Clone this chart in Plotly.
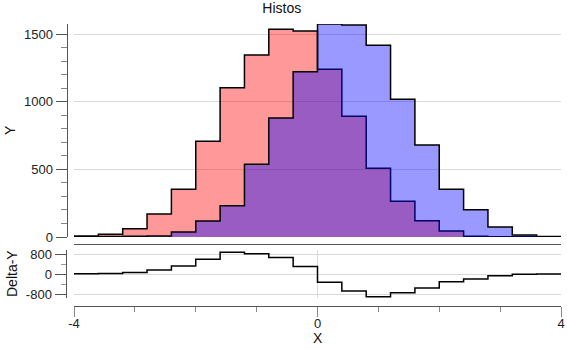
import plotly.graph_objects as go

# ---- data ----
bin_edges = [-4.0, -3.6, -3.2, -2.8, -2.4, -2.0, -1.6, -1.2, -0.8, -0.4, 0.0,
             0.4, 0.8, 1.2, 1.6, 2.0, 2.4, 2.8, 3.2, 3.6, 4.0]
red_counts = [8, 20, 61, 170, 352, 707, 1103, 1345, 1535, 1522,
              1240, 892, 508, 264, 120, 44, 5, 2, 1, 0]
blue_counts = [1, 3, 5, 8, 37, 118, 231, 537, 880, 1222,
               1574, 1567, 1417, 1018, 680, 352, 202, 74, 15, 3]
delta_counts = [r - b for r, b in zip(red_counts, blue_counts)]

x_tick_vals = [-4, 0, 4]
x_tick_text = ["-4", "0", "4"]
dy_tick_vals = [-800, 0, 800]
dy_tick_text = ["-800", "0", "800"]

W, H = 567, 350
def fx(px): return px / W
def fy(py): return 1 - py / H

FONT = "Liberation Sans, Arial, sans-serif"
AXC = "#555555"
GRID = "#d9d9d9"

fig = go.Figure()
fig.add_trace(go.Scatter(
    x=bin_edges, y=red_counts + [red_counts[-1]], mode="lines", line_shape="hv",
    fill="tozeroy", fillcolor="rgba(255,0,0,0.4)", line=dict(color="black", width=1.5),
    xaxis="x", yaxis="y", showlegend=False, hoverinfo="skip"))
fig.add_trace(go.Scatter(
    x=bin_edges, y=blue_counts + [blue_counts[-1]], mode="lines", line_shape="hv",
    fill="tozeroy", fillcolor="rgba(0,0,255,0.4)", line=dict(color="black", width=1.5),
    xaxis="x", yaxis="y", showlegend=False, hoverinfo="skip"))
fig.add_trace(go.Scatter(
    x=bin_edges, y=delta_counts + [delta_counts[-1]], mode="lines", line_shape="hv",
    line=dict(color="black", width=1.5),
    xaxis="x2", yaxis="y2", showlegend=False, hoverinfo="skip"))

fig.update_layout(
    width=W, height=H, margin=dict(l=0, r=0, t=0, b=0, pad=0), autosize=False,
    paper_bgcolor="white", plot_bgcolor="white",
    font=dict(family=FONT, size=13, color="#222222"),
    title=dict(text="Histos", x=0.497, xanchor="center", y=fy(8.5), yanchor="middle",
               automargin=False, font=dict(size=14, color="#111111")),
    xaxis=dict(domain=[fx(74), fx(561)], range=[-4, 4], anchor="free", position=fy(244),
               showline=True, linecolor=AXC, linewidth=1, ticks="", showticklabels=False,
               showgrid=False, zeroline=False, automargin=False),
    yaxis=dict(domain=[fy(237), fy(24)], range=[0, 1574], anchor="free", position=fx(66.5),
               showline=True, linecolor=AXC, linewidth=1, ticks="outside", ticklen=11,
               tickcolor=AXC, dtick=500, tick0=0, showgrid=True, gridcolor=GRID,
               zeroline=False, tickfont=dict(size=13), automargin=False,
               minor=dict(dtick=100, ticks="outside", ticklen=6, tickcolor="#888888",
                          showgrid=False)),
    xaxis2=dict(domain=[fx(74), fx(561)], range=[-4, 4], anchor="free", position=fy(306),
                showline=True, linecolor=AXC, linewidth=1, ticks="outside", ticklen=10,
                tickcolor="#888888", tickmode="array", tickvals=x_tick_vals,
                ticktext=x_tick_text, showgrid=True, gridcolor=GRID,
                zeroline=False, tickfont=dict(size=13), automargin=False,
                ticklabelstandoff=-5,
                minor=dict(dtick=1, tick0=0, ticks="outside", ticklen=5, tickcolor="#888888",
                           showgrid=False)),
    yaxis2=dict(domain=[fy(298), fy(250)], range=[-960, 960], anchor="free", position=fx(65.5),
                showline=True, linecolor=AXC, linewidth=1, ticks="outside", ticklen=11,
                tickcolor=AXC, tickmode="array", tickvals=dy_tick_vals,
                ticktext=dy_tick_text, showgrid=True, gridcolor=GRID,
                zeroline=False, tickfont=dict(size=13), automargin=False,
                minor=dict(dtick=400, tick0=0, ticks="outside", ticklen=5, tickcolor="#999999",
                           showgrid=False)),
    annotations=[
        dict(text="Y", x=fx(10), y=fy(130), xref="paper", yref="paper", showarrow=False,
             xanchor="center", yanchor="middle",
             textangle=-90, font=dict(size=14, color="#111111")),
        dict(text="Delta-Y", x=fx(12), y=fy(274), xref="paper", yref="paper", showarrow=False,
             xanchor="center", yanchor="middle",
             textangle=-90, font=dict(size=14, color="#111111")),
        dict(text="X", x=fx(318), y=fy(338), xref="paper", yref="paper", showarrow=False,
             xanchor="center", yanchor="middle",
             font=dict(size=14, color="#111111")),
    ],
)

fig.write_html("out.html")
